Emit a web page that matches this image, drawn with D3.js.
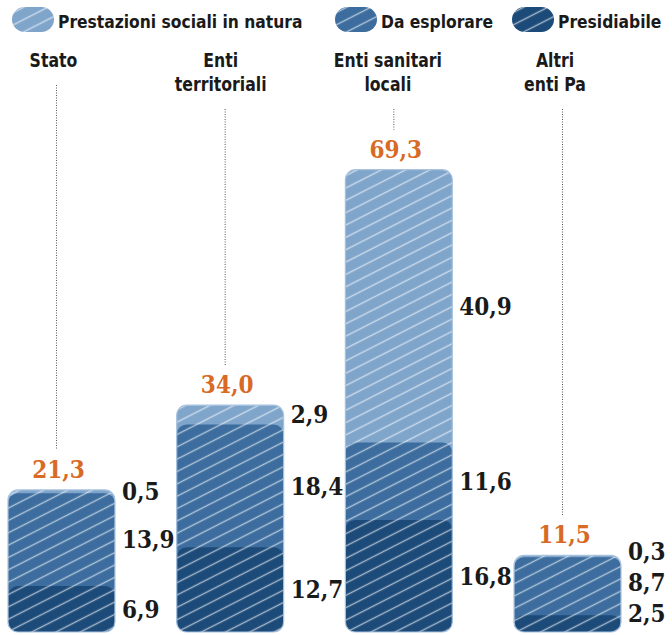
<!DOCTYPE html>
<html>
<head>
<meta charset="utf-8">
<script src="https://cdn.jsdelivr.net/npm/d3@7"></script>
<style>
  body { margin: 0; background: #fff; }
  .head { font-family: "DejaVu Sans Condensed", "DejaVu Sans", sans-serif; font-weight: bold; font-size: 19px; fill: #1a1a1a; }
  .leg { font-family: "DejaVu Sans Condensed", "DejaVu Sans", sans-serif; font-weight: bold; font-size: 18px; fill: #1a1a1a; }
  .val { font-family: "DejaVu Serif Condensed", "DejaVu Serif", serif; font-weight: bold; font-size: 24px; fill: #1a1a1a; }
  .tot { font-family: "DejaVu Serif Condensed", "DejaVu Serif", serif; font-weight: bold; font-size: 24px; fill: #d86a25; }
</style>
</head>
<body>
<script>
// Data
var categories = ["Stato", "Enti territoriali", "Enti sanitari locali", "Altri enti Pa"];
var headerLines = [["Stato"], ["Enti", "territoriali"], ["Enti sanitari", "locali"], ["Altri", "enti Pa"]];
var presidiabile = [6.9, 12.7, 16.8, 2.5];
var daEsplorare = [13.9, 18.4, 11.6, 8.7];
var prestazioni = [0.5, 2.9, 40.9, 0.3];
var totals = [21.3, 34.0, 69.3, 11.5];
var seriesNames = ["Prestazioni sociali in natura", "Da esplorare", "Presidiabile"];
var seriesColors = ["#7fa5cb", "#3c6d9e", "#1d4b79"];

var svgWidth = 672, svgHeight = 635;
var bottomY = 632;

var svg = d3.select("body").append("svg")
  .attr("width", svgWidth)
  .attr("height", svgHeight);

// hatch pattern
var defs = svg.append("defs");
var pat = defs.append("pattern")
  .attr("id", "hatch")
  .attr("patternUnits", "userSpaceOnUse")
  .attr("width", 20)
  .attr("height", 11)
  .attr("patternTransform", "rotate(-27)");
pat.append("line")
  .attr("x1", 0).attr("x2", 20)
  .attr("y1", 5.5).attr("y2", 5.5)
  .attr("stroke", "#fff")
  .attr("stroke-opacity", 0.6)
  .attr("stroke-width", 1.4);

// scales
var x = d3.scaleBand()
  .domain(categories)
  .range([8, 621])
  .paddingInner(0.366)
  .paddingOuter(0);
var y = d3.scaleLinear()
  .domain([0, 70])
  .range([bottomY, 165]);

var fmt = function(v) { return d3.format(".1f")(v).replace(".", ","); };

// Legend
var legendX = [12, 335, 512];
var legend = svg.append("g");
seriesNames.forEach(function(name, i) {
  var g = legend.append("g").attr("transform", `translate(${legendX[i]}, 7)`);
  g.append("rect").attr("width", 42).attr("height", 25).attr("rx", 12.5)
    .attr("fill", seriesColors[i]);
  g.append("rect").attr("width", 42).attr("height", 25).attr("rx", 12.5)
    .attr("fill", "url(#hatch)");
  g.append("text").attr("class", "leg")
    .attr("transform", "translate(46, 21) scale(0.96, 1)")
    .text(name);
});

// Bars
var bars = svg.selectAll(".bar").data(categories).enter()
  .append("g").attr("class", "bar");

bars.each(function(cat, i) {
  var g = d3.select(this);
  var bx = x(cat), bw = x.bandwidth();
  var stack = [totals[i], presidiabile[i] + daEsplorare[i], presidiabile[i]];
  stack.forEach(function(v, k) {
    g.append("rect")
      .attr("x", bx).attr("width", bw)
      .attr("y", y(v)).attr("height", bottomY - y(v))
      .attr("rx", 10)
      .attr("fill", seriesColors[k]);
  });
  g.append("rect")
    .attr("x", bx).attr("width", bw)
    .attr("y", y(totals[i])).attr("height", bottomY - y(totals[i]))
    .attr("rx", 10)
    .attr("fill", "url(#hatch)")
    .attr("stroke", "#a8c2de")
    .attr("stroke-width", 1.2);

  var cx = bx + bw / 2;

  // total label
  var totBase = y(totals[i]) - 12;
  g.append("text").attr("class", "tot")
    .attr("x", cx - 3).attr("y", totBase)
    .attr("text-anchor", "middle")
    .text(fmt(totals[i]));

  // header
  var lines = headerLines[i];
  lines.forEach(function(l, j) {
    g.append("text").attr("class", "head")
      .attr("transform", `translate(${cx - 8 - i * 1.5}, ${67 + j * 24}) scale(0.92, 1)`)
      .attr("text-anchor", "middle")
      .text(l);
  });
  var lineTop = 67 + (lines.length - 1) * 24 + 18;
  g.append("line")
    .attr("x1", cx - 5).attr("x2", cx - 5)
    .attr("y1", lineTop).attr("y2", totBase - 28)
    .attr("stroke", "#555")
    .attr("stroke-width", 1)
    .attr("stroke-dasharray", "1,1.5");

  // segment labels, bottom to top, kept apart
  var segs = [
    [0, presidiabile[i]],
    [presidiabile[i], presidiabile[i] + daEsplorare[i]],
    [presidiabile[i] + daEsplorare[i], totals[i]]
  ];
  var vals = [presidiabile[i], daEsplorare[i], prestazioni[i]];
  var prev = 645;
  segs.forEach(function(s, k) {
    var cy = y((s[0] + s[1]) / 2);
    cy = Math.min(cy, 613, prev - 31);
    prev = cy;
    g.append("text").attr("class", "val")
      .attr("x", bx + bw + 7).attr("y", cy)
      .attr("dy", "0.36em")
      .text(fmt(vals[k]));
  });
});
</script>
</body>
</html>
